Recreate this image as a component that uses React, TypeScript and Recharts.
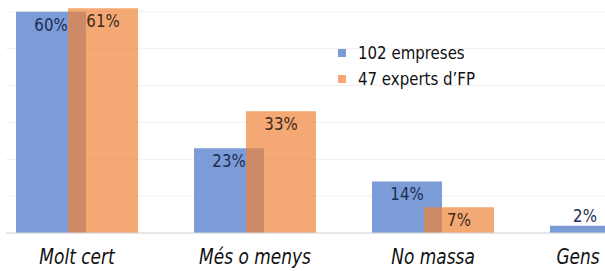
import React from "react";
import { BarChart, Bar, XAxis, YAxis, CartesianGrid, Legend, LabelList } from "recharts";

const categories = ["Molt cert", "Més o menys", "No massa", "Gens"];
const empreses = [60, 23, 14, 2];
const experts = [61, 33, 7, 0];
const seriesNames = ["102 empreses", "47 experts d’FP"];
const yTicks = [0, 10, 20, 30, 40, 50, 60, 70];

const data = categories.map((name, i) => ({
  name,
  empreses: empreses[i],
  experts: experts[i],
}));

const BLUE = "#7B9CD7";
const ORANGE = "#EF8337";
const FONT = "'DejaVu Sans', Verdana, sans-serif";

// chart is shifted so the first band starts left of the picture, as in the source
const SHIFT_X = -12;
// source text looks slightly stretched vertically
const STRETCH = 1.2;

function AxisTick(props: any) {
  const { x, y, payload } = props;
  const cx = Math.min(x, 578 - SHIFT_X);
  return (
    <text
      transform={`translate(${cx},${y + 17}) scale(1,${STRETCH})`}
      textAnchor="middle"
      dominantBaseline="middle"
      fontFamily={FONT}
      fontStyle="italic"
      fontSize={17}
      fill="#111"
    >
      {payload.value}
    </text>
  );
}

function makeLabel(color: string) {
  return (props: any) => {
    const { x, y, width, height, value } = props;
    if (!value) return null;
    const ty = height < 20 ? y - 9 : y + 14;
    return (
      <text
        transform={`translate(${x + width / 2},${ty}) scale(1,${STRETCH})`}
        textAnchor="middle"
        dominantBaseline="middle"
        fontFamily={FONT}
        fontSize={15}
        fill={color}
      >
        {value}%
      </text>
    );
  };
}

function LegendBox() {
  const items = [
    { name: seriesNames[0], color: BLUE, opacity: 1 },
    { name: seriesNames[1], color: ORANGE, opacity: 0.7 },
  ];
  return (
    <div style={{ fontFamily: FONT, fontSize: 15, color: "#111" }}>
      {items.map((it) => (
        <div key={it.name} style={{ display: "flex", alignItems: "center", height: 26 }}>
          <span
            style={{
              display: "inline-block",
              width: 8,
              height: 8,
              background: it.color,
              opacity: it.opacity,
              marginRight: 12,
            }}
          />
          <span style={{ display: "inline-block", transform: `scaleY(${STRETCH})` }}>{it.name}</span>
        </div>
      ))}
    </div>
  );
}

export default function App() {
  return (
    <div
      style={{
        position: "absolute",
        left: 6,
        top: 0,
        width: 599,
        height: 271,
        overflow: "hidden",
        background: "#fff",
      }}
    >
      <div style={{ position: "absolute", left: SHIFT_X - 6, top: -25 }}>
        <BarChart
          width={712}
          height={296}
          data={data}
          margin={{ top: 0, right: 0, bottom: 0, left: 0 }}
          barSize={70}
          barGap={-18}
        >
          <CartesianGrid vertical={false} stroke="#efefef" />
          <XAxis
            dataKey="name"
            height={38}
            interval={0}
            tickLine={false}
            axisLine={{ stroke: "#d6d6d6" }}
            tick={<AxisTick />}
          />
          <YAxis hide domain={[0, 70]} ticks={yTicks} />
          <Legend
            layout="vertical"
            verticalAlign="middle"
            align="center"
            wrapperStyle={{ left: 338 - SHIFT_X, top: 65, width: 200 }}
            content={() => <LegendBox />}
          />
          <Bar dataKey="empreses" name={seriesNames[0]} fill={BLUE} isAnimationActive={false}>
            <LabelList dataKey="empreses" content={makeLabel("#1E2C52")} />
          </Bar>
          <Bar
            dataKey="experts"
            name={seriesNames[1]}
            fill={ORANGE}
            fillOpacity={0.7}
            isAnimationActive={false}
          >
            <LabelList dataKey="experts" content={makeLabel("#3A2A20")} />
          </Bar>
        </BarChart>
      </div>
    </div>
  );
}
